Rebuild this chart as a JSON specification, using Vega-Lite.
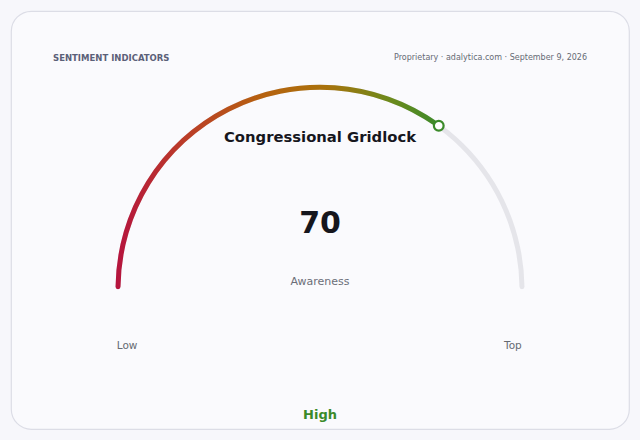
{
  "$schema": "https://vega.github.io/schema/vega-lite/v6.json",
  "width": 640,
  "height": 440,
  "autosize": {"type": "fit", "contains": "padding"},
  "padding": 11,
  "background": "#f7f7fb",
  "datasets": {
    "track": [{"v": 0, "v2": 100, "cx": 0, "cy": 0}],
    "value": [{"v": 0, "v2": 70, "cx": 0, "cy": 0}],
    "marker": [{"x": 58.8, "y": 80.9, "value": 70}],
    "labels": [
      {"role": "header", "text": "SENTIMENT INDICATORS", "x": -132.2, "y": 114.4},
      {"role": "source", "text": "Proprietary · adalytica.com · September 9, 2026", "x": 132.2, "y": 114.4},
      {"role": "title", "text": "Congressional Gridlock", "x": 0, "y": 74.8},
      {"role": "value", "text": "70", "x": 0, "y": 32.5},
      {"role": "metric", "text": "Awareness", "x": 0, "y": 3.5},
      {"role": "end", "text": "Low", "x": -95.5, "y": -28.2},
      {"role": "end", "text": "Top", "x": 95.5, "y": -28.2},
      {"role": "band", "text": "High", "x": 0, "y": -62.4}
    ]
  },
  "encoding": {
    "x": {"type": "quantitative", "scale": {"domain": [-153, 153], "nice": false, "zero": false}, "axis": null},
    "y": {"type": "quantitative", "scale": {"domain": [-69.2, 137.7], "nice": false, "zero": false}, "axis": null}
  },
  "layer": [
    {
      "data": {"name": "track"},
      "mark": {"type": "arc", "radius": 204.5, "radius2": 199.5, "cornerRadius": 2.5, "color": "#e5e5ea"},
      "encoding": {
        "x": {"field": "cx"},
        "y": {"field": "cy"},
        "theta": {"field": "v", "type": "quantitative", "stack": null, "scale": {"domain": [0, 100], "range": [-1.5708, 1.5708]}},
        "theta2": {"field": "v2"}
      }
    },
    {
      "data": {"name": "value"},
      "mark": {
        "type": "arc", "radius": 204.5, "radius2": 199.5, "cornerRadius": 2.5,
        "color": {
          "gradient": "linear", "x1": 0, "y1": 0, "x2": 1, "y2": 0,
          "stops": [
            {"offset": 0, "color": "#b5133e"},
            {"offset": 0.2, "color": "#bb3a2a"},
            {"offset": 0.45, "color": "#b6610f"},
            {"offset": 0.65, "color": "#a9720c"},
            {"offset": 0.85, "color": "#6c8a1c"},
            {"offset": 1, "color": "#3b8a2a"}
          ]
        }
      },
      "encoding": {
        "x": {"field": "cx"},
        "y": {"field": "cy"},
        "theta": {"field": "v", "type": "quantitative", "stack": null, "scale": {"domain": [0, 100], "range": [-1.5708, 1.5708]}},
        "theta2": {"field": "v2"}
      }
    },
    {
      "data": {"name": "marker"},
      "mark": {"type": "point", "shape": "circle", "size": 95, "filled": false, "fill": "#ffffff", "fillOpacity": 1, "stroke": "#3b8a2a", "strokeWidth": 2.2, "opacity": 1},
      "encoding": {
        "x": {"field": "x"},
        "y": {"field": "y"}
      }
    },
    {
      "data": {"name": "labels"},
      "transform": [{"filter": "datum.role === 'header'"}],
      "mark": {"type": "text", "align": "left", "baseline": "middle", "font": "DejaVu Sans", "fontSize": 8.5, "fontWeight": "bold", "color": "#5b6078", "letterSpacing": 0.3},
      "encoding": {"x": {"field": "x"}, "y": {"field": "y"}, "text": {"field": "text"}}
    },
    {
      "data": {"name": "labels"},
      "transform": [{"filter": "datum.role === 'source'"}],
      "mark": {"type": "text", "align": "right", "baseline": "middle", "font": "DejaVu Sans", "fontSize": 8, "color": "#666a75"},
      "encoding": {"x": {"field": "x"}, "y": {"field": "y"}, "text": {"field": "text"}}
    },
    {
      "data": {"name": "labels"},
      "transform": [{"filter": "datum.role === 'title'"}],
      "mark": {"type": "text", "align": "center", "baseline": "middle", "font": "DejaVu Sans", "fontSize": 14.8, "fontWeight": "bold", "color": "#16161d"},
      "encoding": {"x": {"field": "x"}, "y": {"field": "y"}, "text": {"field": "text"}}
    },
    {
      "data": {"name": "labels"},
      "transform": [{"filter": "datum.role === 'value'"}],
      "mark": {"type": "text", "align": "center", "baseline": "middle", "font": "DejaVu Sans", "fontSize": 30, "fontWeight": "bold", "color": "#16161d"},
      "encoding": {"x": {"field": "x"}, "y": {"field": "y"}, "text": {"field": "text"}}
    },
    {
      "data": {"name": "labels"},
      "transform": [{"filter": "datum.role === 'metric'"}],
      "mark": {"type": "text", "align": "center", "baseline": "middle", "font": "DejaVu Sans", "fontSize": 11, "color": "#6b6e78"},
      "encoding": {"x": {"field": "x"}, "y": {"field": "y"}, "text": {"field": "text"}}
    },
    {
      "data": {"name": "labels"},
      "transform": [{"filter": "datum.role === 'end'"}],
      "mark": {"type": "text", "align": "center", "baseline": "middle", "font": "DejaVu Sans", "fontSize": 10.5, "color": "#666a72"},
      "encoding": {"x": {"field": "x"}, "y": {"field": "y"}, "text": {"field": "text"}}
    },
    {
      "data": {"name": "labels"},
      "transform": [{"filter": "datum.role === 'band'"}],
      "mark": {"type": "text", "align": "center", "baseline": "middle", "font": "DejaVu Sans", "fontSize": 13, "fontWeight": "bold", "color": "#3b8a2a"},
      "encoding": {"x": {"field": "x"}, "y": {"field": "y"}, "text": {"field": "text"}}
    }
  ],
  "config": {
    "view": {"fill": "#fafafd", "stroke": "#dcdde6", "strokeWidth": 1.2, "cornerRadius": 20}
  }
}
